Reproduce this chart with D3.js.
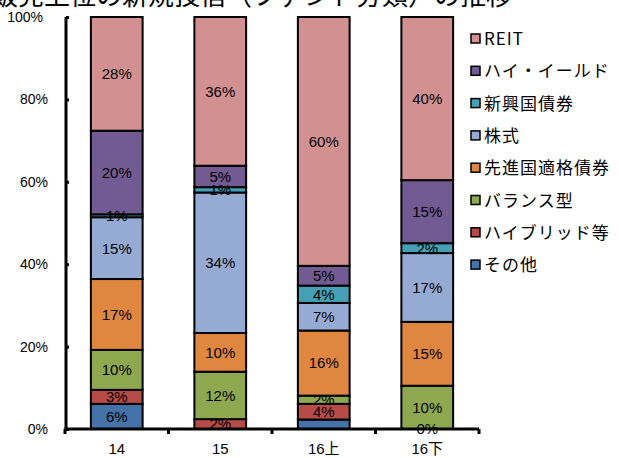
<!DOCTYPE html>
<html><head><meta charset="utf-8">
<script src="https://cdn.jsdelivr.net/npm/d3@7"></script>
<style>
body{margin:0;background:#fff;}
svg{display:block;font-family:"Liberation Sans","Noto Sans CJK JP",sans-serif;}
</style></head><body>
<svg id="chart" width="619" height="458"></svg>
<script>
const categories = ["14", "15", "16上", "16下"];
// series listed bottom to top
const seriesNames = ["その他", "ハイブリッド等", "バランス型", "先進国適格債券", "株式", "新興国債券", "ハイ・イールド", "REIT"];
const sonota   = [6.1, 0.0, 2.3, 0.0];
const hybrid   = [3.4, 2.4, 3.8, 0.0];
const balance  = [9.7, 11.5, 2.0, 10.5];
const senshin  = [17.2, 9.4, 15.8, 15.5];
const kabu     = [15.0, 34.1, 6.7, 16.7];
const shinko   = [0.7, 1.3, 4.2, 2.4];
const highYield= [20.3, 5.2, 4.8, 15.3];
const reit     = [27.6, 36.1, 60.4, 39.6];
// data labels as shown (null = not shown)
const labelsSonota   = ["6%", null, null, "0%"];
const labelsHybrid   = ["3%", "2%", "4%", null];
const labelsBalance  = ["10%", "12%", "2%", "10%"];
const labelsSenshin  = ["17%", "10%", "16%", "15%"];
const labelsKabu     = ["15%", "34%", "7%", "17%"];
const labelsShinko   = ["1%", "1%", "4%", "2%"];
const labelsHY       = ["20%", "5%", "5%", "15%"];
const labelsReit     = ["28%", "36%", "60%", "40%"];
const yTicks = [0, 20, 40, 60, 80, 100];
const titleText = "販売上位の新規投信（ファンド分類）の推移";

const values = [sonota, hybrid, balance, senshin, kabu, shinko, highYield, reit];
const labels = [labelsSonota, labelsHybrid, labelsBalance, labelsSenshin, labelsKabu, labelsShinko, labelsHY, labelsReit];
const colors = ["#4573A9", "#B64B48", "#8DA84E", "#E0873F", "#95ABD3", "#46A0B5", "#725A92", "#D39090"];

const svg = d3.select("#chart");
const x = d3.scaleBand().domain(categories).range([65, 479]).paddingInner(0.5).paddingOuter(0.25);
const y = d3.scaleLinear().domain([0, 100]).range([429, 17]);

// title (cut off at top)
svg.append("text").attr("x", 512).attr("y", 5).attr("text-anchor", "end")
  .attr("font-size", 26).attr("font-family", "Noto Sans CJK JP").attr("fill", "#000").text(titleText);

const rows = categories.map((c, i) => {
  const r = {cat: c};
  seriesNames.forEach((s, k) => r[s] = values[k][i]);
  return r;
});
const stacked = d3.stack().keys(seriesNames)(rows);

stacked.forEach((layer, k) => {
  const g = svg.append("g");
  layer.forEach((d, i) => {
    if (d[1] - d[0] <= 0) return;
    g.append("rect")
      .attr("x", x(categories[i])).attr("width", x.bandwidth())
      .attr("y", y(d[1])).attr("height", y(d[0]) - y(d[1]))
      .attr("fill", colors[k]).attr("stroke", "#000").attr("stroke-width", 2);
  });
});
stacked.forEach((layer, k) => {
  layer.forEach((d, i) => {
    const lab = labels[k][i];
    if (!lab) return;
    svg.append("text")
      .attr("x", x(categories[i]) + x.bandwidth() / 2)
      .attr("y", y((d[0] + d[1]) / 2))
      .attr("dy", "0.36em").attr("text-anchor", "middle")
      .attr("font-size", 15).attr("fill", "#000").text(lab);
  });
});

// y axis
const yAxis = svg.append("g").attr("transform", "translate(66,0)")
  .call(d3.axisRight(y).tickValues(yTicks).tickSize(3).tickFormat(""));
yAxis.select(".domain").remove();
yAxis.selectAll(".tick line").attr("stroke", "#000").attr("stroke-width", 3);
svg.append("line").attr("x1", 66).attr("x2", 66).attr("y1", y(100)).attr("y2", y(0) + 1.5)
  .attr("stroke", "#000").attr("stroke-width", 3);
svg.append("g").selectAll("text").data(yTicks).join("text")
  .attr("x", d => d === 100 ? 43 : 48).attr("y", d => y(d)).attr("dy", "0.36em").attr("text-anchor", "end")
  .attr("font-size", 14).attr("fill", "#000").text(d => d + "%");

// x axis
svg.append("line").attr("x1", 64.5).attr("x2", 479).attr("y1", y(0)).attr("y2", y(0))
  .attr("stroke", "#000").attr("stroke-width", 3);
const step = x.step();
const bounds = d3.range(categories.length + 1).map(i => 65 + i * step);
svg.append("g").selectAll("line").data(bounds).join("line")
  .attr("x1", d => d).attr("x2", d => d).attr("y1", y(0)).attr("y2", y(0) + 5)
  .attr("stroke", "#000").attr("stroke-width", 3);
svg.append("g").selectAll("text").data(categories).join("text")
  .attr("x", d => x(d) + x.bandwidth() / 2).attr("y", 454).attr("text-anchor", "middle")
  .attr("font-size", 15).attr("fill", "#000").text(d => d);

// legend (top to bottom = REIT first)
const legendOrder = seriesNames.map((s, k) => ({name: s, color: colors[k]})).reverse();
const lg = svg.append("g");
legendOrder.forEach((d, i) => {
  const cy = 39 + i * 32.3;
  lg.append("rect").attr("x", 471).attr("y", cy - 5).attr("width", 9).attr("height", 9)
    .attr("fill", d.color).attr("stroke", "#000").attr("stroke-width", 1.5);
  lg.append("text").attr("x", 484).attr("y", cy).attr("dy", "0.36em")
    .attr("font-size", 17).attr("letter-spacing", 1).attr("font-family", "Noto Sans CJK JP")
    .attr("fill", "#000").text(d.name);
});
</script>
</body></html>
